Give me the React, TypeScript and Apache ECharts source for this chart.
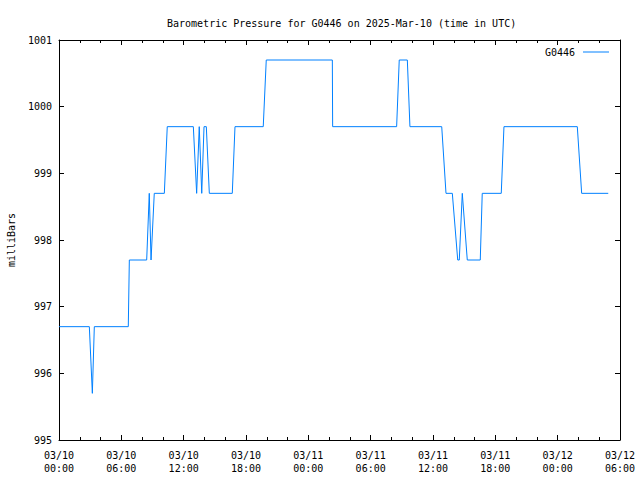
import React, { useEffect, useRef } from "react";
import * as echarts from "echarts";

const titleText = "Barometric Pressure for G0446 on 2025-Mar-10 (time in UTC)";
const seriesName = "G0446";
const yAxisName = "milliBars";
const xTickLabels = [
  "03/10\n00:00", "03/10\n06:00", "03/10\n12:00", "03/10\n18:00", "03/11\n00:00",
  "03/11\n06:00", "03/11\n12:00", "03/11\n18:00", "03/12\n00:00", "03/12\n06:00",
];
// hours since 2025-03-10 00:00 UTC
const hours = [
  0, 2.92, 3.21, 3.4, 6.67, 6.77, 8.44, 8.69, 8.86, 9.17, 10.14, 10.42, 12.93, 13.25, 13.5,
  13.74, 13.96, 14.18, 14.47, 16.68, 16.94, 19.66, 19.95, 26.31, 26.34, 32.5, 32.75, 33.53,
  33.78, 36.84, 37.25, 37.86, 38.38, 38.53, 38.82, 39.3, 40.55, 40.74, 42.57, 42.83, 49.89,
  50.31, 52.87,
];
const pressure = [
  996.7, 996.7, 995.7, 996.7, 996.7, 997.7, 997.7, 998.7, 997.7, 998.7, 998.7, 999.7, 999.7,
  998.7, 999.7, 998.7, 999.7, 999.7, 998.7, 998.7, 999.7, 999.7, 1000.7, 1000.7, 999.7,
  999.7, 1000.7, 1000.7, 999.7, 999.7, 998.7, 998.7, 997.7, 997.7, 998.7, 997.7, 997.7,
  998.7, 998.7, 999.7, 999.7, 998.7, 998.7,
];

const FONT = "DejaVu Sans Mono";
const LINE_COLOR = "#0080ff";

export default function App() {
  const ref = useRef<HTMLDivElement>(null);
  useEffect(() => {
    if (!ref.current) return;
    const chart = echarts.init(ref.current, null, { renderer: "svg" });
    const data = hours.map((h, i) => [h, pressure[i]]);
    const xCommon = {
      type: "value" as const,
      min: 0,
      max: 54,
      interval: 6,
      splitLine: { show: false },
      axisLine: { show: true, onZero: false, lineStyle: { color: "#000", width: 1 } },
      axisTick: { show: true, inside: true, length: 5, lineStyle: { color: "#000" } },
      minorTick: { show: true, splitNumber: 3, length: 3, lineStyle: { color: "#000" } },
    };
    const yCommon = {
      type: "value" as const,
      min: 995,
      max: 1001,
      interval: 1,
      splitLine: { show: false },
      axisLine: { show: true, onZero: false, lineStyle: { color: "#000", width: 1 } },
      axisTick: { show: true, inside: true, length: 5, lineStyle: { color: "#000" } },
    };
    chart.setOption({
      animation: false,
      backgroundColor: "#fff",
      textStyle: { fontFamily: FONT },
      title: {
        text: titleText,
        left: 162,
        top: 13,
        textStyle: { fontFamily: FONT, fontSize: 10, fontWeight: "normal", color: "#000" },
      },
      legend: {
        show: true,
        right: 26,
        top: 42,
        align: "right",
        icon: "rect",
        itemWidth: 26,
        itemHeight: 1,
        itemStyle: { color: LINE_COLOR, borderWidth: 0 },
        textStyle: { fontFamily: FONT, fontSize: 10, color: "#000", padding: [0, 3, 0, 0] },
        data: [seriesName],
      },
      grid: { left: 59, right: 20, top: 40, bottom: 40, containLabel: false, outerBoundsMode: "none" },
      xAxis: [
        {
          ...xCommon,
          position: "bottom",
          axisLabel: {
            show: true,
            color: "#000",
            fontFamily: FONT,
            fontSize: 10,
            lineHeight: 13,
            margin: 9,
            formatter: (v: number) => xTickLabels[Math.round(v / 6)] ?? "",
          },
        },
        { ...xCommon, position: "top", axisLabel: { show: false } },
      ],
      yAxis: [
        {
          ...yCommon,
          position: "left",
          name: yAxisName,
          nameLocation: "middle",
          nameGap: 43,
          nameRotate: 90,
          nameTextStyle: { fontFamily: FONT, fontSize: 10, color: "#000" },
          axisLabel: {
            color: "#000",
            fontFamily: FONT,
            fontSize: 10,
            margin: 7,
            formatter: (v: number) => String(v),
          },
        },
        { ...yCommon, position: "right", axisLabel: { show: false } },
      ],
      series: [
        {
          name: seriesName,
          type: "line",
          xAxisIndex: 0,
          yAxisIndex: 0,
          data,
          showSymbol: false,
          symbol: "none",
          lineStyle: { color: LINE_COLOR, width: 1 },
          itemStyle: { color: LINE_COLOR },
        },
      ],
    });
    return () => chart.dispose();
  }, []);
  return <div ref={ref} style={{ width: 640, height: 480, position: "absolute", left: 0, top: 0 }} />;
}
